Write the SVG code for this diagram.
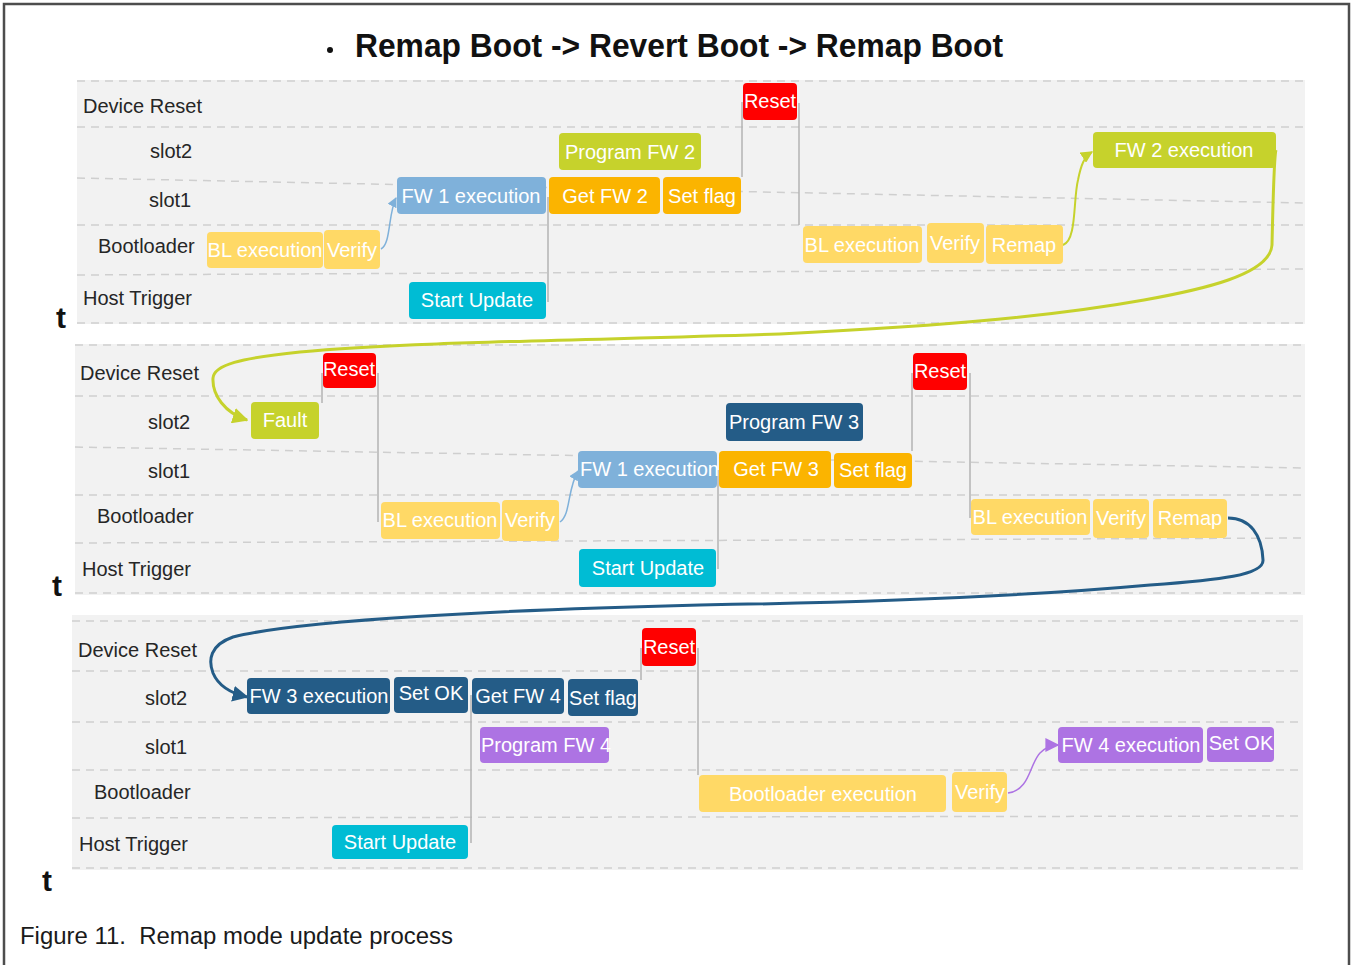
<svg xmlns="http://www.w3.org/2000/svg" width="1352" height="965" viewBox="0 0 1352 965">
  <style>
    .lane { fill: #f2f2f2; }
    .dash { stroke: #cfcfcf; stroke-width: 1.5; stroke-dasharray: 8 6; fill: none; }
    .lbl { font-family: "Liberation Sans", Arial, sans-serif; font-size: 20px; fill: #262626; }
    .tk { font-family: "Liberation Sans", Arial, sans-serif; font-size: 30px; font-weight: bold; fill: #111; }
    .bt { font-family: "Liberation Sans", Arial, sans-serif; font-size: 20px; fill: #ffffff; text-anchor: middle; }
    .bts { font-family: "Liberation Sans", Arial, sans-serif; font-size: 20px; fill: #ffffff; }
    .yel { fill: #ffd966; }
    .lblue { fill: #7fb1da; }
    .org { fill: #fbb400; }
    .grn { fill: #c6d22c; }
    .red { fill: #ff0000; }
    .cyn { fill: #00bcd4; }
    .dblue { fill: #245c87; }
    .pur { fill: #ad73e3; }
    .tie { stroke: #b3b3b3; stroke-width: 1.5; fill: none; }
  </style>
  <defs>
    <marker id="ahBlue" viewBox="0 0 10 10" refX="9" refY="5" markerWidth="10" markerHeight="10" markerUnits="userSpaceOnUse" orient="auto">
      <path d="M0,0 L10,5 L0,10 z" fill="#7fb1da"/>
    </marker>
    <marker id="ahGreen" viewBox="0 0 10 10" refX="9" refY="5" markerWidth="12" markerHeight="12" markerUnits="userSpaceOnUse" orient="auto">
      <path d="M0,0 L10,5 L0,10 z" fill="#c6d22c"/>
    </marker>
    <marker id="ahGreenBig" viewBox="0 0 10 10" refX="9" refY="5" markerWidth="16" markerHeight="16" markerUnits="userSpaceOnUse" orient="auto">
      <path d="M0,0 L10,5 L0,10 z" fill="#c6d22c"/>
    </marker>
    <marker id="ahNavy" viewBox="0 0 10 10" refX="9" refY="5" markerWidth="16" markerHeight="16" markerUnits="userSpaceOnUse" orient="auto">
      <path d="M0,0 L10,5 L0,10 z" fill="#245c87"/>
    </marker>
    <marker id="ahPurple" viewBox="0 0 10 10" refX="9" refY="5" markerWidth="14" markerHeight="14" markerUnits="userSpaceOnUse" orient="auto">
      <path d="M0,0 L10,5 L0,10 z" fill="#ad73e3"/>
    </marker>
  </defs>

  <!-- page frame -->
  <rect x="4" y="4" width="1345" height="975" fill="#ffffff" stroke="#4d4d4d" stroke-width="2.5"/>

  <!-- title -->
  <g id="title">
    <circle cx="330" cy="50" r="3" fill="#111"/>
    <text x="355" y="57" font-family="'Liberation Sans', Arial, sans-serif" font-size="33" font-weight="bold" fill="#111" textLength="648" lengthAdjust="spacingAndGlyphs">Remap Boot -&gt; Revert Boot -&gt; Remap Boot</text>
  </g>

  <!-- timeline 1: lanes -->
  <g id="timeline1">
    <rect class="lane" x="77" y="80" width="1228" height="244"/>
    <line class="dash" x1="77" y1="81" x2="1305" y2="81"/>
    <line class="dash" x1="77" y1="127" x2="1305" y2="127"/>
    <line class="dash" x1="77" y1="178" x2="1305" y2="203"/>
    <line class="dash" x1="77" y1="225" x2="1305" y2="225"/>
    <line class="dash" x1="77" y1="275" x2="1305" y2="269"/>
    <line class="dash" x1="77" y1="323" x2="1305" y2="323"/>
    <text class="lbl" x="83" y="113">Device Reset</text>
    <text class="lbl" x="150" y="158">slot2</text>
    <text class="lbl" x="149" y="207">slot1</text>
    <text class="lbl" x="98" y="253">Bootloader</text>
    <text class="lbl" x="83" y="305">Host Trigger</text>
    <text class="tk" x="56" y="328">t</text>
  </g>

  <!-- timeline 2: lanes -->
  <g id="timeline2">
    <rect class="lane" x="75" y="344" width="1230" height="251"/>
    <line class="dash" x1="75" y1="345" x2="1305" y2="345"/>
    <line class="dash" x1="75" y1="396" x2="1305" y2="396"/>
    <line class="dash" x1="75" y1="447" x2="1305" y2="468"/>
    <line class="dash" x1="75" y1="495" x2="1305" y2="495"/>
    <line class="dash" x1="75" y1="543" x2="1305" y2="538"/>
    <line class="dash" x1="75" y1="593" x2="1305" y2="593"/>
    <text class="lbl" x="80" y="380">Device Reset</text>
    <text class="lbl" x="148" y="429">slot2</text>
    <text class="lbl" x="148" y="478">slot1</text>
    <text class="lbl" x="97" y="523">Bootloader</text>
    <text class="lbl" x="82" y="576">Host Trigger</text>
    <text class="tk" x="52" y="596">t</text>
  </g>

  <!-- timeline 3: lanes -->
  <g id="timeline3">
    <rect class="lane" x="72" y="615" width="1231" height="255"/>
    <line class="dash" x1="72" y1="621" x2="1303" y2="621"/>
    <line class="dash" x1="72" y1="671" x2="1303" y2="671"/>
    <line class="dash" x1="72" y1="722" x2="1303" y2="722"/>
    <line class="dash" x1="72" y1="770" x2="1303" y2="770"/>
    <line class="dash" x1="72" y1="818" x2="1303" y2="816"/>
    <line class="dash" x1="72" y1="868" x2="1303" y2="868"/>
    <text class="lbl" x="78" y="657">Device Reset</text>
    <text class="lbl" x="145" y="705">slot2</text>
    <text class="lbl" x="145" y="754">slot1</text>
    <text class="lbl" x="94" y="799">Bootloader</text>
    <text class="lbl" x="79" y="851">Host Trigger</text>
    <text class="tk" x="42" y="891">t</text>
  </g>

  <!-- connectors -->
  <g id="connectors">
    <!-- timeline 1 ties -->
    <line class="tie" x1="548" y1="197" x2="548" y2="302"/>
    <line class="tie" x1="742" y1="102" x2="742" y2="177"/>
    <line class="tie" x1="799" y1="103" x2="799" y2="225"/>
    <!-- timeline 2 ties -->
    <line class="tie" x1="322" y1="373" x2="322" y2="403"/>
    <line class="tie" x1="378" y1="373" x2="378" y2="522"/>
    <line class="tie" x1="718" y1="470" x2="718" y2="569"/>
    <line class="tie" x1="912" y1="373" x2="912" y2="451"/>
    <line class="tie" x1="970" y1="373" x2="970" y2="518"/>
    <!-- timeline 3 ties -->
    <line class="tie" x1="641" y1="648" x2="641" y2="680"/>
    <line class="tie" x1="698" y1="648" x2="698" y2="775"/>
    <line class="tie" x1="471" y1="695" x2="471" y2="843"/>

    <!-- small flow arrows -->
    <path d="M381,249 C391,244 388,214 396,198" stroke="#7fb1da" stroke-width="1.5" fill="none" marker-end="url(#ahBlue)"/>
    <path d="M1063,245 C1077,240 1073,200 1078,180 C1081,165 1084,157 1092,152" stroke="#c6d22c" stroke-width="2" fill="none" marker-end="url(#ahGreen)"/>
    <path d="M560,522 C571,514 567,490 578,471" stroke="#7fb1da" stroke-width="1.5" fill="none" marker-end="url(#ahBlue)"/>
    <path d="M1008,793 C1030,790 1029,765 1040,753 C1045,748 1050,745 1058,745" stroke="#ad73e3" stroke-width="1.5" fill="none" marker-end="url(#ahPurple)"/>

    <!-- FW 2 execution -> Fault -->
    <path d="M1276,150 C1274,156 1273,200 1272,245 C1270,275 1200,290 1144,300 C1060,315 960,325 780,334 C600,340 400,342 300,352 C240,358 214,365 213,378 C212,395 225,413 247,420" stroke="#c6d22c" stroke-width="3" fill="none" marker-end="url(#ahGreenBig)"/>
    <!-- Remap -> FW 3 execution -->
    <path d="M1228,518 C1250,518 1262,535 1263,560 C1264,575 1220,580 1150,585 C1050,594 900,602 700,605 C500,610 300,620 233,637 C210,645 208,660 213,673 C218,685 230,693 247,697" stroke="#245c87" stroke-width="3" fill="none" marker-end="url(#ahNavy)"/>
  </g>

  <!-- timeline 1 nodes -->
  <g id="t1-bl-exec"><rect class="yel" x="207" y="232" width="116" height="36" rx="4"/><text class="bt" x="265" y="257">BL execution</text></g>
  <g id="t1-verify"><rect class="yel" x="324" y="230" width="56" height="39" rx="4"/><text class="bt" x="352" y="257">Verify</text></g>
  <g id="t1-fw1-exec"><rect class="lblue" x="397" y="177" width="149" height="37" rx="4"/><text class="bt" x="471" y="203">FW 1 execution</text></g>
  <g id="t1-get-fw2"><rect class="org" x="549" y="177" width="111" height="37" rx="4"/><text class="bt" x="605" y="203">Get FW 2</text></g>
  <g id="t1-set-flag"><rect class="org" x="663" y="177" width="78" height="37" rx="4"/><text class="bt" x="702" y="203">Set flag</text></g>
  <g id="t1-program-fw2"><rect class="grn" x="559" y="133" width="142" height="37" rx="4"/><text class="bt" x="630" y="159">Program FW 2</text></g>
  <g id="t1-reset"><rect class="red" x="743" y="83" width="54" height="37" rx="4"/><text class="bt" x="770" y="108">Reset</text></g>
  <g id="t1-start-update"><rect class="cyn" x="409" y="282" width="137" height="37" rx="4"/><text class="bt" x="477" y="307">Start Update</text></g>
  <g id="t1-bl-exec2"><rect class="yel" x="803" y="226" width="119" height="37" rx="4"/><text class="bt" x="862" y="252">BL execution</text></g>
  <g id="t1-verify2"><rect class="yel" x="927" y="223" width="57" height="40" rx="4"/><text class="bt" x="955" y="250">Verify</text></g>
  <g id="t1-remap"><rect class="yel" x="986" y="225" width="77" height="39" rx="4"/><text class="bt" x="1024" y="252">Remap</text></g>
  <g id="t1-fw2-exec"><rect class="grn" x="1093" y="132" width="183" height="36" rx="4"/><text class="bt" x="1184" y="157">FW 2 execution</text></g>

  <!-- timeline 2 nodes -->
  <g id="t2-fault"><rect class="grn" x="251" y="402" width="68" height="37" rx="4"/><text class="bt" x="285" y="427">Fault</text></g>
  <g id="t2-reset"><rect class="red" x="323" y="353" width="53" height="35" rx="4"/><text class="bt" x="349" y="376">Reset</text></g>
  <g id="t2-bl-exec"><rect class="yel" x="381" y="502" width="119" height="37" rx="4"/><text class="bt" x="440" y="527">BL execution</text></g>
  <g id="t2-verify"><rect class="yel" x="502" y="500" width="57" height="41" rx="4"/><text class="bt" x="530" y="527">Verify</text></g>
  <g id="t2-fw1-exec"><rect class="lblue" x="578" y="451" width="139" height="37" rx="4"/><text class="bts" x="580" y="476">FW 1 execution</text></g>
  <g id="t2-get-fw3"><rect class="org" x="719" y="451" width="112" height="37" rx="4"/><text class="bt" x="776" y="476">Get FW 3</text></g>
  <g id="t2-set-flag"><rect class="org" x="834" y="453" width="78" height="35" rx="4"/><text class="bt" x="873" y="477">Set flag</text></g>
  <g id="t2-program-fw3"><rect class="dblue" x="726" y="403" width="137" height="38" rx="4"/><text class="bt" x="794" y="429">Program FW 3</text></g>
  <g id="t2-start-update"><rect class="cyn" x="579" y="549" width="137" height="38" rx="4"/><text class="bt" x="648" y="575">Start Update</text></g>
  <g id="t2-reset2"><rect class="red" x="913" y="353" width="54" height="37" rx="4"/><text class="bt" x="940" y="378">Reset</text></g>
  <g id="t2-bl-exec2"><rect class="yel" x="971" y="499" width="119" height="36" rx="4"/><text class="bt" x="1030" y="524">BL execution</text></g>
  <g id="t2-verify2"><rect class="yel" x="1093" y="499" width="56" height="39" rx="4"/><text class="bt" x="1121" y="525">Verify</text></g>
  <g id="t2-remap"><rect class="yel" x="1153" y="499" width="74" height="39" rx="4"/><text class="bt" x="1190" y="525">Remap</text></g>

  <!-- timeline 3 nodes -->
  <g id="t3-fw3-exec"><rect class="dblue" x="247" y="678" width="143" height="36" rx="4"/><text class="bt" x="319" y="703">FW 3 execution</text></g>
  <g id="t3-set-ok"><rect class="dblue" x="394" y="677" width="74" height="36" rx="4"/><text class="bt" x="431" y="700">Set OK</text></g>
  <g id="t3-get-fw4"><rect class="dblue" x="472" y="678" width="92" height="36" rx="4"/><text class="bt" x="518" y="703">Get FW 4</text></g>
  <g id="t3-set-flag"><rect class="dblue" x="568" y="679" width="70" height="37" rx="4"/><text class="bt" x="603" y="705">Set flag</text></g>
  <g id="t3-program-fw4"><rect class="pur" x="480" y="727" width="129" height="36" rx="4"/><text class="bts" x="481" y="752">Program FW 4</text></g>
  <g id="t3-reset"><rect class="red" x="642" y="628" width="54" height="38" rx="4"/><text class="bt" x="669" y="654">Reset</text></g>
  <g id="t3-start-update"><rect class="cyn" x="332" y="825" width="136" height="34" rx="4"/><text class="bt" x="400" y="849">Start Update</text></g>
  <g id="t3-bootloader-exec"><rect class="yel" x="699" y="775" width="247" height="37" rx="4"/><text class="bt" x="823" y="801">Bootloader execution</text></g>
  <g id="t3-verify"><rect class="yel" x="952" y="772" width="55" height="40" rx="4"/><text class="bt" x="980" y="799">Verify</text></g>
  <g id="t3-fw4-exec"><rect class="pur" x="1058" y="727" width="145" height="36" rx="4"/><text class="bt" x="1131" y="752">FW 4 execution</text></g>
  <g id="t3-set-ok2"><rect class="pur" x="1207" y="727" width="67" height="35" rx="4"/><text class="bt" x="1241" y="750">Set OK</text></g>

  <!-- caption -->
  <text x="20" y="944" font-family="'Liberation Sans', Arial, sans-serif" font-size="23" fill="#1a1a1a" textLength="433" lengthAdjust="spacingAndGlyphs" xml:space="preserve">Figure 11.  Remap mode update process</text>
</svg>
